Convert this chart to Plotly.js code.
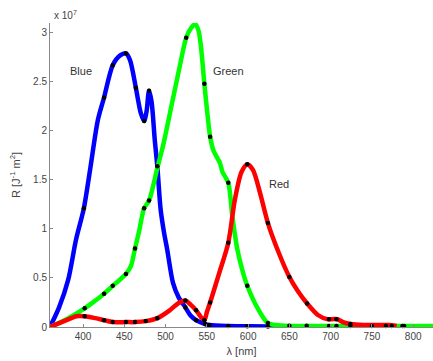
<!DOCTYPE html>
<html>
<head>
<meta charset="utf-8">
<script src="https://cdn.plot.ly/plotly-3.0.1.min.js"></script>
<style>html,body{margin:0;padding:0;background:#fff;}#chart{width:433px;height:361px;}</style>
</head>
<body>
<div id="chart"></div>
<script>
// Wavelength (nm) and responsivity (x 1e7 J^-1 m^2)
const blueLineX = [360, 371, 382, 391.5, 401, 408.5, 418, 425.5, 436, 445, 452, 457, 464, 470, 474, 477, 480, 483, 487, 490, 494, 498, 502, 509, 516, 524, 530, 537, 548, 553, 575, 600, 650, 700, 790];
const blueLineY = [0, 0.2, 0.48, 0.89, 1.21, 1.6, 2.11, 2.34, 2.67, 2.77, 2.79, 2.72, 2.44, 2.18, 2.1, 2.2, 2.41, 2.3, 1.9, 1.64, 1.2, 0.97, 0.79, 0.45, 0.3, 0.2, 0.12, 0.07, 0.03, 0.02, 0.01, 0.008, 0.005, 0.003, 0];

const greenLineX = [360, 380, 402, 415, 425.5, 436, 452, 458, 463, 468, 474, 480, 490, 497, 508, 517, 525, 531, 536, 540, 543, 547, 551, 554, 558, 566, 569, 576, 581, 587, 593, 599, 611, 624, 640, 700, 824];
const greenLineY = [0, 0.08, 0.19, 0.27, 0.34, 0.42, 0.54, 0.62, 0.8, 0.98, 1.21, 1.29, 1.62, 1.85, 2.29, 2.65, 2.95, 3.05, 3.09, 3.02, 2.85, 2.48, 2.15, 1.94, 1.8, 1.67, 1.58, 1.47, 1.12, 0.79, 0.58, 0.42, 0.2, 0.04, 0.015, 0.01, 0.01];

const redLineX = [360, 380, 392, 402, 415, 425.5, 436, 452, 463, 476, 490, 505, 515, 524, 530, 537, 543, 547, 550, 554, 565, 576, 584, 592, 599, 606, 615, 624, 637, 650, 660, 671.5, 685, 696, 702, 708, 715, 724, 740, 770, 780];
const redLineY = [0, 0.07, 0.11, 0.11, 0.09, 0.07, 0.05, 0.05, 0.05, 0.06, 0.09, 0.17, 0.24, 0.27, 0.23, 0.17, 0.1, 0.07, 0.15, 0.25, 0.55, 0.86, 1.3, 1.58, 1.66, 1.6, 1.35, 1.06, 0.76, 0.51, 0.37, 0.24, 0.12, 0.08, 0.08, 0.08, 0.05, 0.03, 0.02, 0.02, 0.01];

const blueDotX = [401, 425.5, 436, 452, 464, 474, 480, 490, 524, 537, 548, 553, 576, 599, 624];
const blueDotY = [1.21, 2.34, 2.67, 2.79, 2.44, 2.1, 2.41, 1.64, 0.2, 0.07, 0.03, 0.02, 0.01, 0.008, 0.006];

const greenDotX = [402, 425.5, 436, 452, 463, 474, 480, 525, 547, 554, 576, 599, 624, 650, 671, 698, 707, 724, 750, 767, 774, 787, 789];
const greenDotY = [0.19, 0.34, 0.42, 0.54, 0.8, 1.21, 1.29, 2.95, 2.48, 1.94, 1.47, 0.42, 0.04, 0.012, 0.012, 0.01, 0.01, 0.01, 0.01, 0.01, 0.01, 0.01, 0.01];

const redDotX = [402, 425.5, 436, 452, 463, 476, 490, 524, 537, 547, 554, 576, 599, 624, 650, 671.5, 698, 707, 724];
const redDotY = [0.11, 0.07, 0.05, 0.05, 0.05, 0.06, 0.09, 0.27, 0.17, 0.07, 0.25, 0.86, 1.66, 1.06, 0.51, 0.24, 0.08, 0.08, 0.03];

const yTickVals = [0, 0.5, 1, 1.5, 2, 2.5, 3];
const yTickText = ['0', '0.5', '1', '1.5', '2', '2.5', '3'];
const xTickVals = [400, 450, 500, 550, 600, 650, 700, 750, 800];
const xTickText = ['400', '450', '500', '550', '600', '650', '700', '750', '800'];

const curveLabels = [
  {text: 'Blue', x: 397.6, y: 2.61},
  {text: 'Green', x: 575.8, y: 2.61},
  {text: 'Red', x: 637.6, y: 1.46}
];

function lineTrace(x, y, color) {
  return {x: x, y: y, type: 'scatter', mode: 'lines', line: {color: color, width: 4.5, shape: 'spline', smoothing: 0.8}, hoverinfo: 'skip', showlegend: false};
}
function dotTrace(x, y) {
  return {x: x, y: y, type: 'scatter', mode: 'markers', marker: {color: '#000', size: 4.5}, cliponaxis: false, hoverinfo: 'skip', showlegend: false};
}

const data = [
  lineTrace(blueLineX, blueLineY, '#0000ff'),
  lineTrace(greenLineX, greenLineY, '#00ff00'),
  lineTrace(redLineX, redLineY, '#ff0000'),
  dotTrace(blueDotX, blueDotY),
  dotTrace(greenDotX, greenDotY),
  dotTrace(redDotX, redDotY)
];

const font = {family: 'Liberation Sans, Arial, sans-serif', size: 10, color: '#444'};

const annotations = curveLabels.map(l => ({
  text: l.text, x: l.x, y: l.y, xref: 'x', yref: 'y', showarrow: false,
  font: {family: font.family, size: 11, color: '#333'}
}));
annotations.push({
  text: 'x 10<sup>7</sup>', xref: 'paper', yref: 'paper', x: 0.006, y: 1.026,
  xanchor: 'left', yanchor: 'middle', showarrow: false,
  font: {family: font.family, size: 10, color: '#444'}
});

const layout = {
  width: 433, height: 361,
  margin: {l: 50, r: 0, t: 23, b: 34},
  paper_bgcolor: '#fff', plot_bgcolor: '#fff',
  font: font,
  showlegend: false,
  xaxis: {
    range: [360, 824], showgrid: false, zeroline: false,
    showline: true, linecolor: '#888', linewidth: 1,
    ticks: 'inside', ticklen: 3, tickcolor: '#888',
    tickvals: xTickVals, ticktext: xTickText,
    title: {text: 'λ [nm]', font: {family: font.family, size: 11, color: '#444'}, standoff: 6}
  },
  yaxis: {
    range: [0, 3.1], showgrid: false, zeroline: false,
    showline: true, linecolor: '#888', linewidth: 1,
    ticks: 'inside', ticklen: 3, tickcolor: '#888',
    tickvals: yTickVals, ticktext: yTickText,
    title: {text: 'R [J<sup>-1</sup> m<sup>2</sup>]', font: {family: font.family, size: 11, color: '#444'}, standoff: 10}
  },
  annotations: annotations
};

Plotly.newPlot('chart', data, layout, {displayModeBar: false, staticPlot: true});
</script>
</body>
</html>
